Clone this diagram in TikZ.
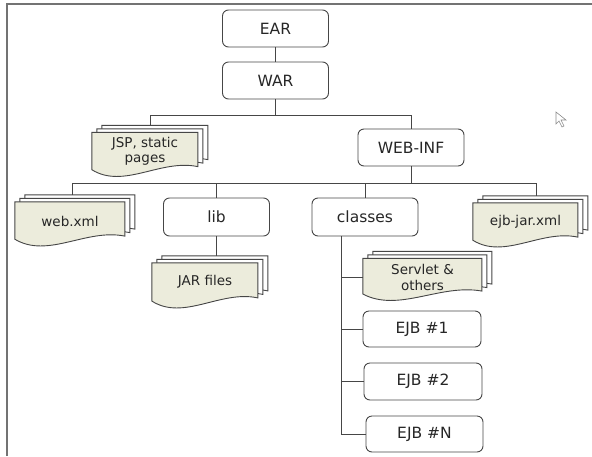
\documentclass[tikz,border=0pt]{standalone}
\usepackage{fontspec}
\setmainfont{DejaVu Sans}
\usepackage{xcolor}
\usetikzlibrary{calc}
\pgfdeclarelayer{background}
\pgfsetlayers{background,main}
\definecolor{pagefill}{RGB}{236,236,220}
\definecolor{linegray}{RGB}{70,70,70}
\definecolor{framegray}{RGB}{115,115,115}

% stack of three pages behind a doc node: name, width, height
\newcommand\pagestack[3]{%
  \foreach \off/\col in {10/white, 5/white, 0/pagefill}{
    \begin{scope}[shift={($(#1.north west)+(\off,-0.7*\off)$)}]
      \draw[page, fill=\col] (0,0) -- (#2,0) -- (#2,0.78*#3)
        .. controls (0.65*#2,0.6*#3) and (0.3*#2,1.3*#3) .. (0,0.85*#3) -- cycle;
    \end{scope}}}

\begin{document}
\begin{tikzpicture}[x=1pt, y=-1pt,
        % Define the styles for folders, files and links
        box/.style={draw=linegray, line width=0.9pt, rounded corners=6pt, minimum height=37pt,
          minimum width=106pt, inner sep=0pt, text=black!85, font=\fontsize{15.5}{18}\selectfont},
        doc/.style={minimum height=38pt, inner sep=0pt, align=center, text=black!85,
          font=\fontsize{13.5}{15.5}\selectfont},
        page/.style={draw=linegray, line width=0.9pt},
        link/.style={draw=linegray, line width=0.8pt},
        frame/.style={draw=framegray, line width=2pt}]

        \useasboundingbox (0,0) rectangle (592,456);

        % 1. Frame on the left and top
        \draw[frame] (7,456) -- (7,4) -- (592,4);

        % 2. Archive and folder boxes
        \node[box] (ear) at (275.5,28.5) {EAR};
        \node[box] (war) at (275.5,80.5) {WAR};
        \node[box] (webinf) at (411,147.5) {WEB-INF};
        \node[box, minimum height=38pt] (lib) at (216.5,217) {lib};
        \node[box, minimum height=38pt] (classes) at (365,217) {classes};
        \node[box, minimum width=118pt, minimum height=36pt] (ejb1) at (422,329) {EJB \#1};
        \node[box, minimum width=118pt] (ejb2) at (423,381.5) {EJB \#2};
        \node[box, minimum width=117pt, minimum height=36pt] (ejbN) at (424.5,434) {EJB \#N};

        % 3. File nodes (the pages are drawn behind them)
        \node[doc, minimum width=106pt] (jsp) at (145,151.5) {JSP, static\\pages};
        \node[doc, minimum width=110pt] (webxml) at (70,221) {web.xml};
        \node[doc, minimum width=106pt] (jar) at (205,282) {JAR files};
        \node[doc, minimum width=105pt] (ejbjar) at (525.5,222) {ejb-jar.xml};
        \node[doc, minimum width=119pt] (servlet) at (422.5,277.5) {Servlet \&\\others};

        \begin{pgfonlayer}{background}
          \pagestack{jsp}{106}{44}
          \pagestack{webxml}{110}{44}
          \pagestack{jar}{106}{45}
          \pagestack{ejbjar}{105}{44}
          \pagestack{servlet}{119}{42}
        \end{pgfonlayer}

        % 4. Tops of the page stacks and bus points
        \coordinate (jsptop) at ($(jsp.north)+(5,-7)$);
        \coordinate (webxmltop) at ($(webxml.north)+(2,-7)$);
        \coordinate (jartop) at ($(jar.north)+(0,-7)$);
        \coordinate (ejbjartop) at ($(ejbjar.north)+(11,-7)$);
        \coordinate (warbus) at ($(war.south)+(0,16)$);
        \coordinate (infbus) at ($(webinf.south)+(0,17)$);
        \coordinate (trunk) at ($(classes.south west)+(30,0)$);

        % 5. Links
        \draw[link] (ear) -- (war);
        \draw[link] (war.south) -- (warbus) -| (jsptop);
        \draw[link] (warbus) -| (webinf.north);
        \draw[link] (webinf.south) -- (infbus) -| (webxmltop);
        \draw[link] (infbus) -| (lib.north);
        \draw[link] (infbus) -| (classes.north);
        \draw[link] (infbus) -| (ejbjartop);
        \draw[link] (lib.south) -- (lib.south |- jartop);
        \draw[link] (trunk) |- (ejbN.west);
        \draw[link] (trunk |- servlet.west) -- (servlet.west);
        \draw[link] (trunk |- ejb1.west) -- (ejb1.west);
        \draw[link] (trunk |- ejb2.west) -- (ejb2.west);

        % 6. Mouse pointer
        \draw[draw=black!45, fill=white, line width=0.6pt] (556,112) -- (556,124) -- (559,121)
          -- (562,127) -- (564,126) -- (561,120) -- (566,120) -- cycle;

    \end{tikzpicture}
\end{document}
